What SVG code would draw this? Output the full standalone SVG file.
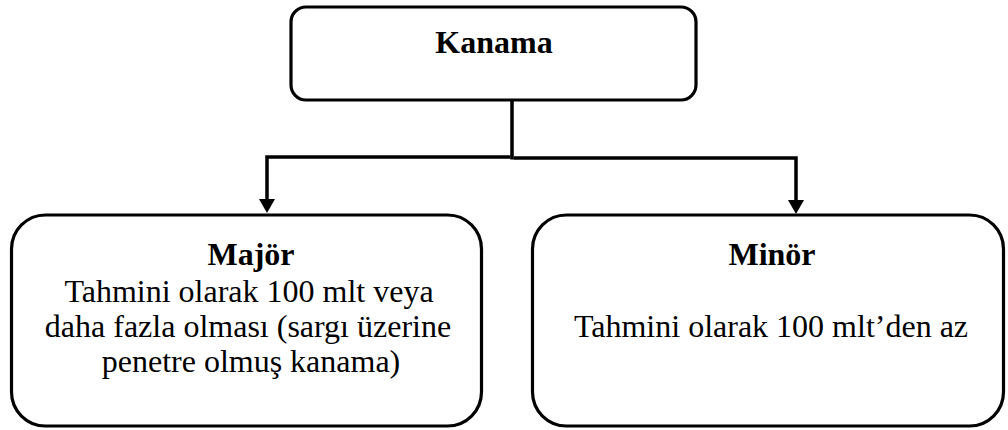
<svg xmlns="http://www.w3.org/2000/svg" width="1008" height="430" viewBox="0 0 1008 430">
<defs>
<style>
.box{fill:#fff;stroke:#000;stroke-width:3.2}
.conn{fill:none;stroke:#000;stroke-width:3.5}
.head{fill:#000;stroke:none}
text{font-family:"Liberation Serif","Times New Roman",serif;font-size:32px;fill:#000;text-anchor:middle}
.b{font-weight:bold}
</style>
</defs>
<rect width="1008" height="430" fill="#fff"/>
<g id="connectors">
<line class="conn" x1="512" y1="100" x2="512" y2="159.5"/>
<polyline class="conn" points="510.5,157 267,157 267,200"/>
<polyline class="conn" points="513.5,158 796,158 796,201"/>
<polygon class="head" points="259,199 275,199 267,213"/>
<polygon class="head" points="788,200 804,200 796,214"/>
</g>
<g id="node-kanama">
<rect class="box" x="291" y="7" width="405" height="93" rx="15" ry="15"/>
<text class="b" x="494" y="53">Kanama</text>
</g>
<g id="node-major">
<rect class="box" x="11.5" y="215" width="470" height="211" rx="34" ry="34"/>
<text class="b" x="251" y="265">Majör</text>
<text x="249" y="302">Tahmini olarak 100 mlt veya</text>
<text x="248" y="337">daha fazla olması (sargı üzerine</text>
<text x="251" y="372">penetre olmuş kanama)</text>
</g>
<g id="node-minor">
<rect class="box" x="532.5" y="215" width="471" height="211" rx="34" ry="34"/>
<text class="b" x="772" y="265">Minör</text>
<text x="771" y="337">Tahmini olarak 100 mlt’den az</text>
</g>
</svg>
